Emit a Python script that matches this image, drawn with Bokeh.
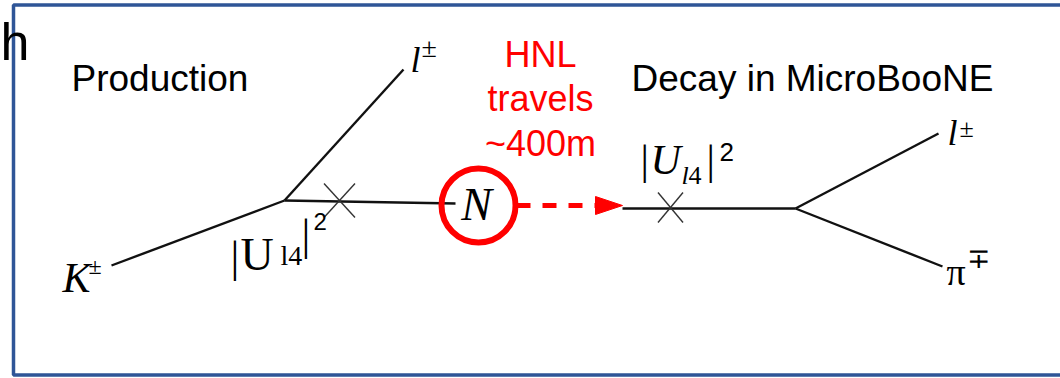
from bokeh.plotting import figure
from bokeh.models import Range1d, Label
from bokeh.embed import file_html
from bokeh.resources import INLINE

W, H = 1060, 378

# ---- diagram geometry (canvas pixels, y grows upward) ----
prod_vertex = (284, 178)
kaon_start = (111, 113)
prod_lepton_end = (403, 309)
hnl_line_end = (455, 175)
hnl_center = (478, 173)
hnl_radius = 37
arrow_start = (516, 173)
arrow_tip = (622, 173)
decay_start = (622, 170)
decay_vertex = (795, 170)
decay_lepton_end = (938, 245)
decay_pion_end = (942, 112)
mixing_x = [339, 670]
mixing_y = [178, 171]
mixing_half_w = [15.5, 12.5]
mixing_half_h = [17, 15]

# ---- labels (baseline positions, y grows upward) ----
stage_titles = ["Production", "Decay in MicroBooNE"]
stage_x = [71, 631]
stage_y = [287, 287]
travel_lines = ["HNL", "travels", "~400m"]
travel_x = [540, 540, 540]
travel_y = [311, 267, 222]

BLUE = "#2F5597"
RED = "#FF0000"
INK = "#111111"
SERIF = "Liberation Serif"
SANS = "Liberation Sans"
BASE_SHIFT = 0.35   # em; lifts labels so the glyph baseline sits on y

p = figure(width=W, height=H, output_backend="svg", toolbar_location=None,
           x_range=Range1d(0, W), y_range=Range1d(0, H),
           min_border=0, outline_line_color=None)
p.axis.visible = False
p.grid.visible = False
p.background_fill_color = "white"
p.border_fill_color = "white"

# frame around the slide area (open on the right)
p.line([W, 13, 13, W], [373.5, 373.5, 3.5, 3.5], line_color=BLUE, line_width=3.5)

# production vertex lines
p.multi_line(xs=[[kaon_start[0], prod_vertex[0]],
                 [prod_vertex[0], prod_lepton_end[0]],
                 [prod_vertex[0], hnl_line_end[0]]],
             ys=[[kaon_start[1], prod_vertex[1]],
                 [prod_vertex[1], prod_lepton_end[1]],
                 [prod_vertex[1], hnl_line_end[1]]],
             line_color=INK, line_width=2.4)

# decay vertex lines
p.multi_line(xs=[[decay_start[0], decay_vertex[0]],
                 [decay_vertex[0], decay_lepton_end[0]],
                 [decay_vertex[0], decay_pion_end[0]]],
             ys=[[decay_start[1], decay_vertex[1]],
                 [decay_vertex[1], decay_lepton_end[1]],
                 [decay_vertex[1], decay_pion_end[1]]],
             line_color=INK, line_width=2.4)

# mixing insertions drawn as crosses
cx, cy = [], []
for x, y, hw, hh in zip(mixing_x, mixing_y, mixing_half_w, mixing_half_h):
    cx += [[x - hw, x + hw], [x - hw, x + hw]]
    cy += [[y - hh, y + hh], [y + hh, y - hh]]
p.multi_line(xs=cx, ys=cy, line_color="#333333", line_width=1.4)

# heavy neutral lepton
p.circle([hnl_center[0]], [hnl_center[1]], radius=hnl_radius,
         fill_color=None, line_color=RED, line_width=6)

# dashed flight path with a solid head
head_len, head_half = 27, 9
base_x = arrow_tip[0] - head_len
p.line([arrow_start[0], base_x], [arrow_start[1], arrow_tip[1]],
       line_color=RED, line_width=5, line_dash="14 12")
p.patch([base_x, arrow_tip[0], base_x],
        [arrow_tip[1] - head_half, arrow_tip[1], arrow_tip[1] + head_half],
        fill_color=RED, line_color=RED, line_width=1)


def put(txt, x, y, size, font=SERIF, style="normal", color="black",
        align="left", baseline="alphabetic"):
    if baseline == "alphabetic":
        y = y + BASE_SHIFT * size
    p.add_layout(Label(x=x, y=y, text=txt, text_font=font,
                       text_font_size=f"{size}px", text_font_style=style,
                       text_color=color, text_align=align,
                       text_baseline=baseline))


# stage titles and flight note
for t, x, y in zip(stage_titles, stage_x, stage_y):
    put(t, x, y, 37, SANS)
for t, x, y in zip(travel_lines, travel_x, travel_y):
    put(t, x, y, 36, SANS, color=RED, align="center")

put("h", 0, 318, 52, SANS)

# N inside the circle
put("N", hnl_center[0] - 2, hnl_center[1] + 1, 46, SERIF, "italic",
    align="center", baseline="middle")

# K+- incoming
put("K", 62, 86, 42, SERIF, "italic")
put("±", 88, 104, 24, SERIF)

# outgoing lepton at production
put("l", 410, 306, 36, SERIF, "italic")
put("±", 421, 321, 28, SERIF)

# mixing strength at production, stepping up along the kaon line
put("|", 230, 106, 44, SERIF)
put("U", 240, 108, 46, SERIF)
put("l4", 280, 113, 28, SERIF)
put("|", 301, 128, 44, SERIF)
put("2", 313, 149, 24, SANS)

# mixing strength at decay
put("|", 640, 204, 42, SERIF)
put("U", 650, 204, 42, SERIF, "italic")
put("l", 681, 194, 26, SERIF, "italic")
put("4", 688, 194, 26, SERIF)
put("|", 706, 204, 42, SERIF)
put("2", 719, 217, 26, SANS)

# decay products
put("l", 947, 233, 36, SERIF, "italic")
put("±", 959, 241, 26, SERIF)
put("π", 946, 93, 38, SERIF)
put("∓", 966, 110, 28, SERIF)

open("out.html", "w").write(file_html(p, INLINE))
